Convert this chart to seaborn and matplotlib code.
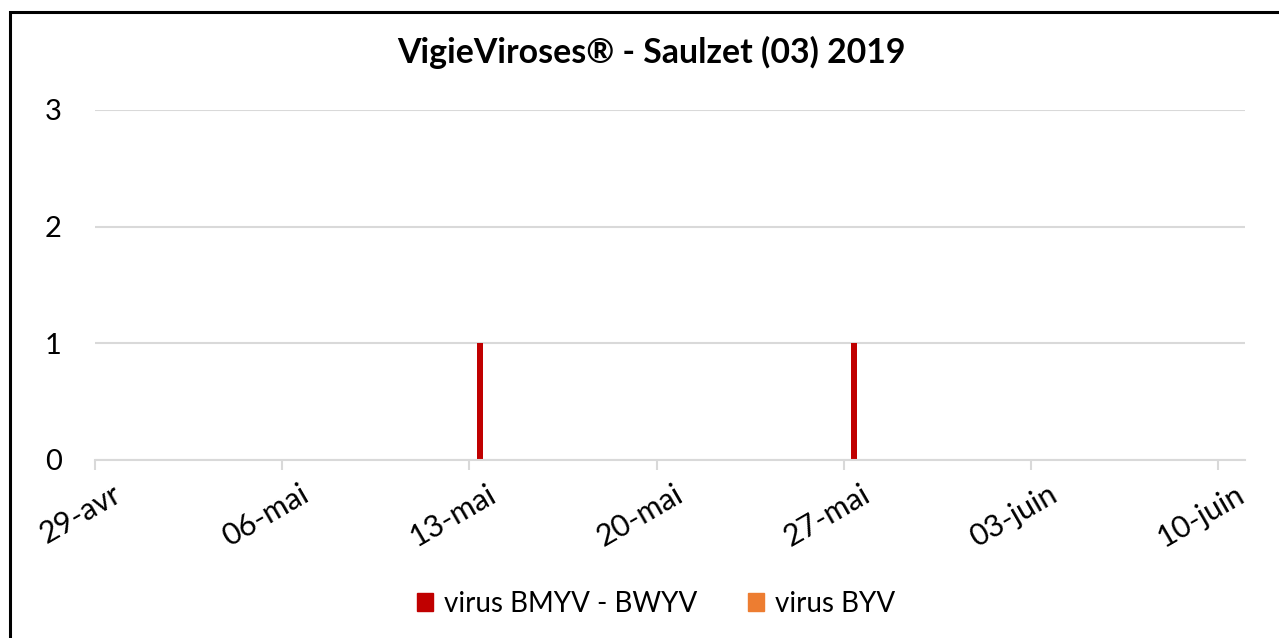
import pandas as pd
import matplotlib.pyplot as plt
import matplotlib.transforms as mtransforms
from matplotlib.patches import Rectangle
import seaborn as sns

# Data
start_date = "2019-04-29"
end_date = "2019-06-10"
series_names = ["virus BMYV - BWYV", "virus BYV"]
bmyv_dates = ["2019-05-13", "2019-05-27"]
bmyv_counts = [1, 1]
byv_dates = []
byv_counts = []
month_fr = {4: "avr", 5: "mai", 6: "juin"}
colors = ["#c00000", "#ed7d31"]

# Build a long table, one row per day and series
days = pd.date_range(start_date, end_date, freq="D")
bmyv = dict(zip(pd.to_datetime(bmyv_dates), bmyv_counts))
byv = dict(zip(pd.to_datetime(byv_dates), byv_counts))

rows = []
for d in days:
    rows.append({"day": d.strftime("%Y-%m-%d"), "series": series_names[0], "count": bmyv.get(d, 0)})
    rows.append({"day": d.strftime("%Y-%m-%d"), "series": series_names[1], "count": byv.get(d, 0)})
df = pd.DataFrame(rows)
order = [d.strftime("%Y-%m-%d") for d in days]

sns.set_style("white")
plt.rcParams["font.family"] = ["Lato", "DejaVu Sans"]
plt.rcParams["text.color"] = "black"
plt.rcParams["xtick.color"] = "black"
plt.rcParams["ytick.color"] = "black"

fig = plt.figure(figsize=(12.79, 6.38), dpi=100)
ax = fig.add_axes([95 / 1279, 1 - 460 / 638, 1150 / 1279, 350 / 638])

sns.barplot(
    data=df,
    x="day",
    y="count",
    hue="series",
    order=order,
    hue_order=series_names,
    palette=colors,
    saturation=1,
    width=0.45,
    linewidth=0,
    legend=False,
    ax=ax
)

ax.set_xlim(-0.5, len(days) - 0.5)
ax.set_ylim(0, 3)
ax.set_yticks([0, 1, 2, 3])
ax.yaxis.grid(True, color="#d9d9d9", linewidth=1.5)
ax.set_axisbelow(True)

ax.tick_params(axis="x", bottom=True, length=7, width=1.5, color="#d9d9d9",
               direction="out", pad=0)
ax.tick_params(axis="y", left=False, length=0, labelsize=21, pad=24)

tick_idx = list(range(0, len(days), 7))
ax.set_xticks([i - 0.5 for i in tick_idx])
ax.set_xticklabels(
    [f"{days[i].day:02d}-{month_fr[days[i].month]}" for i in tick_idx],
    rotation=30,
    ha="right",
    va="top",
    rotation_mode="anchor",
    fontsize=22
)
# shift the rotated date labels (after tick_params, which resets transforms)
offset = mtransforms.ScaledTranslation(0.17, -0.1, fig.dpi_scale_trans)
for lab in ax.get_xticklabels():
    lab.set_transform(lab.get_transform() + offset)

for side in ["top", "right", "left"]:
    ax.spines[side].set_visible(False)
ax.spines["bottom"].set_color("#d9d9d9")
ax.spines["bottom"].set_linewidth(1.5)

ax.set_xlabel("")
ax.set_ylabel("")

fig.text(651 / 1279, 1 - 52 / 638, "VigieViroses® - Saulzet (03) 2019",
         ha="center", va="center", fontsize=24.4, fontweight="bold")

handles = [Rectangle((0, 0), 1, 1, color=c) for c in colors]
fig.legend(
    handles,
    series_names,
    loc="center",
    bbox_to_anchor=(656 / 1279, 1 - 604 / 638),
    ncol=2,
    frameon=False,
    fontsize=20,
    handlelength=0.6,
    handleheight=0.6,
    handletextpad=0.4,
    columnspacing=1.8
)

# Outer frame
fig.patches.append(Rectangle(
    (10 / 1279, -0.1), 1.2, 1.1 - 12 / 638,
    transform=fig.transFigure, fill=False, edgecolor="black", linewidth=2.2
))

plt.savefig("out.png", dpi=100)
